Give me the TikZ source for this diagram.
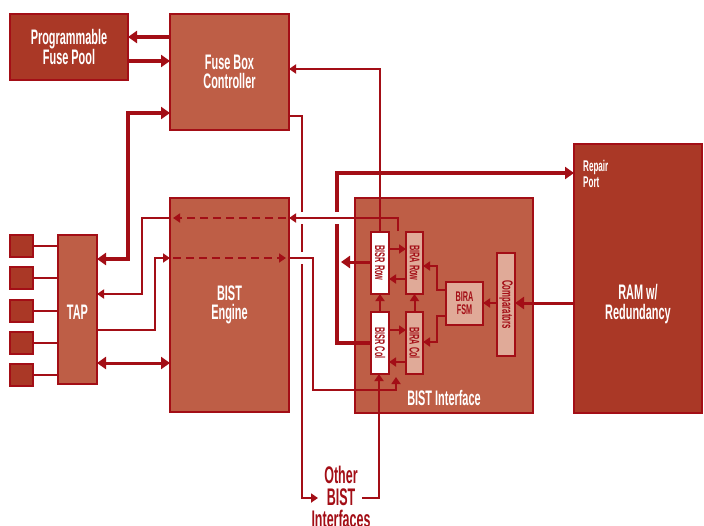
\documentclass[tikz,border=0pt]{standalone}
\usepackage{fontspec}
\setmainfont{Liberation Sans}[FakeStretch=0.52]
\usetikzlibrary{arrows.meta,calc}
\definecolor{lc}{RGB}{163,14,22}
\definecolor{dk}{RGB}{170,56,38}
\definecolor{md}{RGB}{190,94,70}
\definecolor{lt}{RGB}{224,170,152}
\tikzset{
 blk/.style={draw=lc, line width=2pt, inner sep=0pt, outer sep=0pt, text=white, align=center,
   font=\bfseries\fontsize{21}{19.5}\selectfont},
 dkblk/.style={blk, fill=dk},
 mdblk/.style={blk, fill=md},
 sq/.style={draw=lc, line width=2pt, fill=dk, minimum width=23pt, minimum height=22pt, inner sep=0pt, outer sep=0pt},
 smw/.style={draw=lc, line width=2pt, fill=white, inner sep=0pt, outer sep=0pt, text=lc, align=center,
   font=\bfseries\fontsize{14}{13}\selectfont},
 smp/.style={smw, fill=lt},
 ln/.style={draw=lc, line width=2pt},
 lnm/.style={draw=lc, line width=3pt},
 lnk/.style={draw=lc, line width=4pt},
 ar/.style={-{Triangle[length=7pt,width=9pt]}},
 ark/.style={-{Triangle[length=9pt,width=12pt]}},
 ark2/.style={{Triangle[length=9pt,width=12pt]}-{Triangle[length=9pt,width=12pt]}},
 dsh/.style={dash pattern=on 8pt off 5pt},
 gapw/.style={draw=white, line width=7pt}
}
\begin{document}
\begin{tikzpicture}[x=1pt,y=-1pt]
\useasboundingbox[fill=white] (0,0) rectangle (704,525);

% main blocks
\node[dkblk, minimum width=118pt, minimum height=66pt, font=\bfseries\fontsize{21}{20}\selectfont] (pool) at (69,47) {Programmable\\Fuse Pool};
\node[mdblk, minimum width=119pt, minimum height=116pt] (fbc) at (229.5,72) {Fuse Box\\Controller};
\node[mdblk, minimum width=119pt, minimum height=214pt] (eng) at (229.5,305) {BIST\\Engine};
\node[mdblk, minimum width=39pt, minimum height=149pt] (tap) at (77.5,309.5) {};
\node[text=white, font=\bfseries\fontsize{21}{19.5}\selectfont, inner sep=0pt] (taplbl) at (77.5,312) {TAP};
\node[mdblk, minimum width=178pt, minimum height=215pt] (bif) at (444,305.5) {};
\node[text=white, font=\bfseries\fontsize{21}{19.5}\selectfont, inner sep=0pt] (biflbl) at (444,398) {BIST Interface};
\node[dkblk, minimum width=128pt, minimum height=269pt] (ram) at (638,278.5) {};
\node[text=white, align=center, font=\bfseries\fontsize{21}{20}\selectfont, inner sep=0pt] (raml) at (638,304) {RAM w/\\Redundancy};
\node[text=white, align=left, anchor=north west, font=\bfseries\fontsize{15.5}{16}\selectfont, inner sep=0pt] (rp) at (583,160) {Repair\\Port};

% inner blocks
\node[smw, minimum width=18pt, minimum height=62pt] (bisrrow) at (380,263) {\rotatebox{-90}{BISR Row}};
\node[smw, minimum width=18pt, minimum height=62pt] (bisrcol) at (380,343) {\rotatebox{-90}{BISR Col}};
\node[smp, minimum width=17pt, minimum height=62pt] (birarow) at (414.5,263) {\rotatebox{-90}{BIRA Row}};
\node[smp, minimum width=17pt, minimum height=62pt] (biracol) at (414.5,343) {\rotatebox{-90}{BIRA Col}};
\node[smp, minimum width=37pt, minimum height=43pt, font=\bfseries\fontsize{14}{13}\selectfont] (fsm) at (464.5,303.5) {BIRA\\FSM};
\node[smp, minimum width=18pt, minimum height=103pt, font=\bfseries\fontsize{15}{13}\selectfont] (comp) at (506,304.5) {\rotatebox{-90}{Comparators}};

% other interfaces
\node[text=lc, align=center, font=\bfseries\fontsize{24}{22}\selectfont, inner sep=0pt] (other) at (341,497) {Other\\BIST\\Interfaces};
\coordinate (oin) at (318,498);
\coordinate (oout) at (362,498);

% pads
\foreach \i/\y in {1/246,2/278,3/311,4/343,5/375}{
  \node[sq] (s\i) at (21.5,\y) {};
  \draw[ln] (s\i.east) -- (tap.west |- s\i.east);
}

% fuse pool <-> fuse box controller
\draw[lnk, ark] (fbc.west |- 0,37) -- (pool.east |- 0,37);
\draw[lnk, ark] (pool.east |- 0,61) -- (fbc.west |- 0,61);
% TAP <-> FBC
\draw[lnk, ark2] (tap.east |- 0,259) -- (128,259) -- (128,113) -- (fbc.west |- 0,113);
% TAP <-> BIST engine
\draw[lnm, ark2] (tap.east |- 0,363) -- (eng.west |- 0,363);

% FBC -> other interfaces
\draw[ln, ar] (fbc.east |- 0,116) -- (302,116) -- (302,498) -- (oin);
% BISR row -> FBC
\draw[ln, ar] (bisrrow.north) -- (bisrrow.north |- 0,69) -- (fbc.east |- 0,69);
% BISR col -> repair port
\draw[lnk, ark] (bisrcol.west |- 0,343) -- (337,343) -- (337,173) -- (ram.west |- 0,173);
% BISR row -> repair bus
\draw[lnm, ark] (bisrrow.west |- 0,262) -- (341,262);

% crossing gaps
\draw[gapw] (302,212) -- (302,224);
\draw[gapw] (302,252) -- (302,264);
\draw[gapw] (337,212) -- (337,224);

% BIRA row -> BIST engine -> TAP
\coordinate (g0) at (398,231);
\draw[ln, ar] (g0) -- (398,218) -- (eng.east |- 0,218);
\draw[ln, dsh, ar] ($(eng.east |- 0,218)+(-3,0)$) -- ($(eng.west |- 0,218)+(3,0)$);
\draw[ln, ar] (eng.west |- 0,218) -- (142,218) -- (142,294) -- (tap.east |- 0,294);
% TAP -> BIST engine -> BIST interface
\draw[ln, ar] (tap.east |- 0,330) -- (155,330) -- (155,258) -- (eng.west |- 0,258);
\draw[ln, dsh, ar] ($(eng.west |- 0,258)+(3,0)$) -- ($(eng.east |- 0,258)+(-3,0)$);
\coordinate (h1) at (396,377);
\draw[ln, ar] (eng.east |- 0,258) -- (313,258) -- (313,390) -- (396,390) -- (h1);
% other interfaces -> BISR col
\draw[ln, ar] (oout) -- (379,498) -- (bisrcol.south -| 379,0);

% inner arrows
\draw[ln, ar] (bisrrow.east |- 0,249) -- (birarow.west |- 0,249);
\draw[ln, ar] (birarow.west |- 0,279) -- (bisrrow.east |- 0,279);
\draw[ln, ar] (bisrcol.north) -- (bisrrow.south);
\draw[ln, ar] (biracol.north) -- (birarow.south);
\draw[ln, ar] (bisrcol.east |- 0,330) -- (biracol.west |- 0,330);
\draw[ln, ar] (biracol.west |- 0,362) -- (bisrcol.east |- 0,362);
\draw[ln, ar] (fsm.west |- 0,290) -- (437,290) -- (437,266) -- (birarow.east |- 0,266);
\draw[ln, ar] (fsm.west |- 0,316) -- (437,316) -- (437,342) -- (biracol.east |- 0,342);
\draw[ln, ar] (comp.west |- 0,303) -- (fsm.east |- 0,303);
\draw[lnm, ark] (ram.west |- 0,303) -- (comp.east |- 0,303);
\end{tikzpicture}
\end{document}
